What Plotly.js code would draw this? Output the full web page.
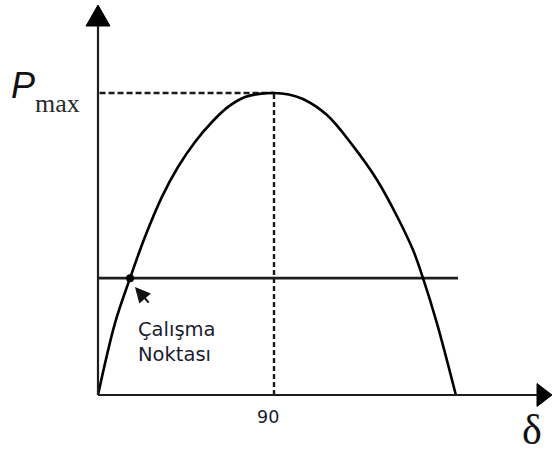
<!DOCTYPE html>
<html>
<head>
<meta charset="utf-8">
<script src="https://cdn.plot.ly/plotly-3.0.1.min.js"></script>
<style>
  html, body { margin: 0; padding: 0; background: #ffffff; }
  #chart { width: 553px; height: 452px; }
</style>
</head>
<body>
<div id="chart"></div>
<script>
// Power-angle curve P(δ), power in units of Pmax, angle in degrees
const deltaDeg = [0, 8.7, 16.4, 24.0, 32.7, 40.9, 49.6, 58.3, 66.5, 75.2, 82.5, 90,
                  97.5, 104.8, 117.1, 130.4, 142.7, 152.9, 161.1, 166.2, 173.3, 183.0];
const powerPu  = [0, 0.238, 0.387, 0.523, 0.656, 0.755, 0.838, 0.904, 0.954, 0.987, 0.997, 1.0,
                  0.995, 0.980, 0.927, 0.825, 0.712, 0.592, 0.480, 0.387, 0.238, 0];

// Mechanical input power line and the operating point on the rising side
const mechLineDelta = [0, 184.1];
const mechLinePower = [0.387, 0.387];
const operatingDelta = [16.4];
const operatingPower = [0.387];

// Guide lines to the maximum
const peakDelta = 90;
const peakPower = 1.0;

// Labels
const tickLabels = ['90'];
const pointLabel = ['Çalışma', 'Noktası'];
const yAxisSymbol = 'P';
const yAxisSub = 'max';
const xAxisSymbol = 'δ';

// Scale: pixels per degree and per unit of Pmax
const PPD = 176 / 90;
const PPU = 302;
// Axis extents (data units); a little room below and left of the origin
// so the arrowheads are not clipped
const PAD = 20;
const X_MIN = -PAD / PPD;
const Y_MIN = -PAD / PPU;
const X_MAX = 455 / PPD;
const Y_MAX = 395 / PPU;
const X_TIP = 454 / PPD;
const Y_TIP = 390 / PPU;

const ink = '#1e1e1e';
const textInk = '#1b1b30';

const traces = [
  { // dashed guide to Pmax (horizontal)
    x: [0.8, peakDelta], y: [peakPower, peakPower],
    mode: 'lines', line: { color: '#1a1a1a', width: 2.4, dash: '6px,3px' },
    hoverinfo: 'skip'
  },
  { // dashed guide at δ = 90 (vertical)
    x: [peakDelta, peakDelta], y: [0, peakPower],
    mode: 'lines', line: { color: '#1a1a1a', width: 2.4, dash: '5px,3px' },
    hoverinfo: 'skip'
  },
  { // mechanical power
    x: mechLineDelta, y: mechLinePower,
    mode: 'lines', line: { color: ink, width: 2.6 },
    hoverinfo: 'skip'
  },
  { // P-δ curve
    x: deltaDeg, y: powerPu,
    mode: 'lines', line: { color: '#000000', width: 2.6, shape: 'spline', smoothing: 1.0 },
    hoverinfo: 'skip'
  },
  { // operating point
    x: operatingDelta, y: operatingPower,
    mode: 'markers', marker: { color: '#000000', size: 8 },
    hoverinfo: 'skip'
  }
];

// triangle path in data units
function tri(p) {
  return 'M ' + p.map(q => q[0] + ',' + q[1]).join(' L ') + ' Z';
}

const shapes = [
  // x axis
  { type: 'line', xref: 'x', yref: 'y', x0: 0, x1: X_TIP - 10 / PPD, y0: 0, y1: 0,
    line: { color: ink, width: 2.2 } },
  // y axis
  { type: 'line', xref: 'x', yref: 'y', x0: 0, x1: 0, y0: 0, y1: Y_TIP - 10 / PPU,
    line: { color: ink, width: 2.2 } },
  // x axis arrowhead
  { type: 'path', xref: 'x', yref: 'y',
    path: tri([[X_TIP, 0], [X_TIP - 15 / PPD, 11.5 / PPU], [X_TIP - 15 / PPD, -11.5 / PPU]]),
    fillcolor: '#000000', line: { color: '#000000', width: 1 } },
  // y axis arrowhead
  { type: 'path', xref: 'x', yref: 'y',
    path: tri([[0, Y_TIP], [-12 / PPD, Y_TIP - 21 / PPU], [12 / PPD, Y_TIP - 21 / PPU]]),
    fillcolor: '#000000', line: { color: '#000000', width: 1 } }
];

// paper coordinates from page pixels
const W = 553 - 78, H = 395 + 20;
const px = v => (v - 78) / W;
const py = v => (415 - v) / H;

const annotations = [
  { // pointer to the operating point
    x: 18.9, y: 0.358, ax: 26.6, ay: 0.301, axref: 'x', ayref: 'y',
    xref: 'x', yref: 'y', text: '', showarrow: true,
    arrowhead: 2, arrowsize: 1.4, arrowwidth: 2.2, arrowcolor: '#111111'
  },
  {
    x: 19.6, y: 0.177, xref: 'x', yref: 'y', xanchor: 'left', yanchor: 'middle',
    text: pointLabel.join('<br>'), showarrow: false, align: 'left',
    font: { family: 'DejaVu Sans', size: 19.5, color: textInk }
  },
  {
    x: px(268), y: py(417), xref: 'paper', yref: 'paper',
    xanchor: 'center', yanchor: 'middle', text: tickLabels[0], showarrow: false,
    font: { family: 'DejaVu Sans', size: 17.5, color: textInk }
  },
  {
    x: px(9), y: py(85), xref: 'paper', yref: 'paper', xanchor: 'left', yanchor: 'middle',
    text: '<i>' + yAxisSymbol + '</i>', showarrow: false,
    font: { family: 'Liberation Sans', size: 36, color: '#111111' }
  },
  {
    x: px(33), y: py(103), xref: 'paper', yref: 'paper', xanchor: 'left', yanchor: 'middle',
    text: yAxisSub, showarrow: false,
    font: { family: 'Liberation Serif', size: 26, color: '#2a2a2a' }
  },
  {
    x: px(532), y: py(430), xref: 'paper', yref: 'paper', xanchor: 'center', yanchor: 'middle',
    text: xAxisSymbol, showarrow: false,
    font: { family: 'Liberation Serif', size: 42, color: '#111111' }
  }
];

const layout = {
  width: 553, height: 452,
  margin: { l: 78, r: 0, t: 0, b: 37 },
  paper_bgcolor: '#ffffff', plot_bgcolor: '#ffffff',
  showlegend: false,
  xaxis: { range: [X_MIN, X_MAX], showgrid: false, zeroline: false, showline: false,
           showticklabels: false, ticks: '', fixedrange: true },
  yaxis: { range: [Y_MIN, Y_MAX], showgrid: false, zeroline: false, showline: false,
           showticklabels: false, ticks: '', fixedrange: true },
  shapes: shapes,
  annotations: annotations
};

Plotly.newPlot('chart', traces, layout, { displayModeBar: false, staticPlot: true });
</script>
</body>
</html>
